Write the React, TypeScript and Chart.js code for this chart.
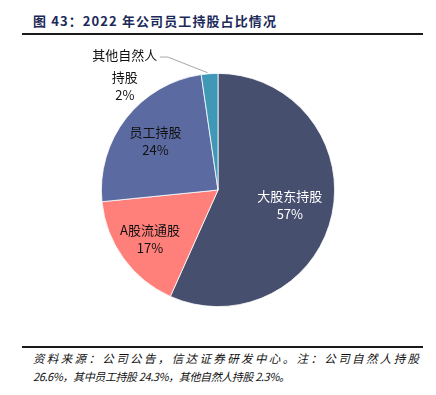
import React, { useEffect, useRef } from "react";
import { Chart, registerables } from "chart.js";

Chart.register(...registerables);

const categories = ["大股东持股", "A股流通股", "员工持股", "其他自然人持股"];
const values = [56.7, 16.7, 24.3, 2.3];
const percentLabels = ["57%", "17%", "24%", "2%"];
const colors = ["#474F6F", "#FF7F7B", "#5B6BA1", "#3E98B6"];
const labelLines = [["大股东持股"], ["A股流通股"], ["员工持股"], ["持股"]];
const labelColors = ["#FFFFFF", "#111111", "#111111", "#111111"];
const labelRadius = [0.63, 0.72, 0.68, 0];

const FONT = '"Noto Sans CJK SC", "Noto Sans", sans-serif';

const labelPlugin = {
  id: "sliceLabels",
  afterDatasetsDraw(chart: any) {
    const ctx = chart.ctx;
    const meta = chart.getDatasetMeta(0);
    ctx.save();
    ctx.font = `13px ${FONT}`;
    ctx.textAlign = "center";
    ctx.textBaseline = "middle";
    meta.data.forEach((arc: any, i: number) => {
      const { x, y, startAngle, endAngle, outerRadius } = arc.getProps(
        ["x", "y", "startAngle", "endAngle", "outerRadius"],
        true
      );
      const mid = (startAngle + endAngle) / 2;
      if (i === 3) {
        const px = x + Math.cos(mid) * outerRadius;
        const py = y + Math.sin(mid) * outerRadius;
        const elbowX = x - outerRadius * 0.43;
        const elbowY = y - outerRadius * 1.14;
        ctx.strokeStyle = "#A6A6A6";
        ctx.lineWidth = 1;
        ctx.beginPath();
        ctx.moveTo(px - 2, py - 1);
        ctx.lineTo(elbowX, elbowY);
        ctx.lineTo(elbowX - 8, elbowY);
        ctx.stroke();
        ctx.fillStyle = labelColors[i];
        const tx = elbowX - 43;
        ctx.fillText("其他自然人", tx, elbowY - 2);
        ctx.fillText(labelLines[i][0], tx, elbowY + 20);
        ctx.fillText(percentLabels[i], tx, elbowY + 38);
        return;
      }
      const r = outerRadius * labelRadius[i];
      const cx = x + Math.cos(mid) * r;
      const cy = y + Math.sin(mid) * r;
      ctx.fillStyle = labelColors[i];
      ctx.fillText(labelLines[i][0], cx, cy - 9);
      ctx.fillText(percentLabels[i], cx, cy + 9);
    });
    ctx.restore();
  },
};

export default function App() {
  const ref = useRef<HTMLCanvasElement>(null);
  useEffect(() => {
    if (!ref.current) return;
    const chart = new Chart(ref.current, {
      type: "pie",
      data: {
        labels: categories,
        datasets: [
          {
            data: values,
            backgroundColor: colors,
            borderColor: "#FFFFFF",
            borderWidth: 0.8,
          },
        ],
      },
      options: {
        animation: false,
        responsive: false,
        maintainAspectRatio: false,
        layout: { padding: 33 },
        plugins: {
          legend: { display: false },
          tooltip: { enabled: false },
        },
      },
      plugins: [labelPlugin],
    });
    return () => chart.destroy();
  }, []);

  return (
    <div
      style={{
        position: "fixed",
        left: 0,
        top: 0,
        width: 436,
        height: 395,
        background: "#FFFFFF",
        fontFamily: FONT,
      }}
    >
      <div
        style={{
          position: "absolute",
          left: 33,
          top: 12,
          fontSize: 13,
          fontWeight: "bold",
          color: "#1C2A5A",
          lineHeight: "18px",
          letterSpacing: "1.1px",
          whiteSpace: "nowrap",
        }}
      >
        图 43：2022 年公司员工持股占比情况
      </div>
      <div
        style={{
          position: "absolute",
          left: 22,
          top: 33,
          width: 401,
          height: 2,
          background: "#1A1A1A",
        }}
      />
      <canvas
        ref={ref}
        width={436}
        height={300}
        style={{ position: "absolute", left: 0, top: 40, width: 436, height: 300 }}
      />
      <div
        style={{
          position: "absolute",
          left: 22,
          top: 346,
          width: 401,
          height: 2,
          background: "#1A1A1A",
        }}
      />
      <div
        style={{
          position: "absolute",
          left: 33,
          top: 349,
          width: 386,
          fontSize: 11.5,
          fontStyle: "italic",
          color: "#111111",
          lineHeight: "18px",
        }}
      >
        <div style={{ textAlign: "justify", textAlignLast: "justify", whiteSpace: "nowrap" } as any}>
          资料来源：公司公告，信达证券研发中心。注：公司自然人持股
        </div>
        <div style={{ whiteSpace: "nowrap", fontSize: 11, letterSpacing: "-0.4px" }}>
          26.6%，其中员工持股 24.3%，其他自然人持股 2.3%。
        </div>
      </div>
    </div>
  );
}
